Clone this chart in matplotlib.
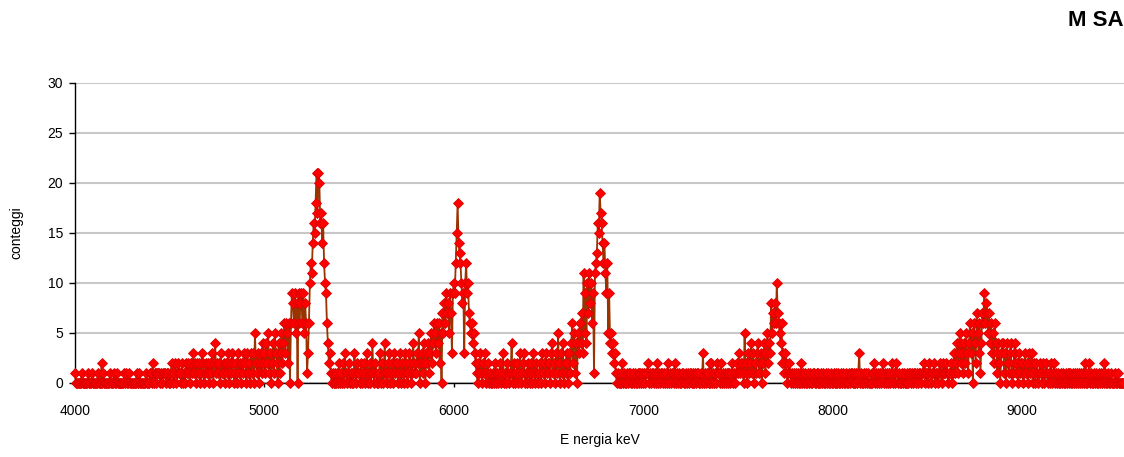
import numpy as np
import matplotlib.pyplot as plt

plt.rcParams['font.family'] = ['Liberation Sans', 'DejaVu Sans']

# MCA channels, 5 keV wide, first channel at 4000 keV
e_start, e_step = 4000, 5

# counts per channel, one character per channel (base 36: a=10 ... l=21),
# one string per 100 keV
counts_4000 = ("10000001000000100010", "00001000201000000100", "01001000000010100100",
               "00000100100000010001", "10201101110101110110")
counts_4500 = ("01210120121102010212", "10221312021201320121", "21021302412120311202",
               "12302132012031202132", "20312031305213023142")
counts_5000 = ("31425130241532041352", "46365260698695809689", "69586136acbegfilhlkg",
               "hegca964231010100102", "01020310120101031021")
counts_5500 = ("10201201301201410210", "01302014102130120312", "20130210312013201421",
               "13250231420324135246", "53646250758697859739")
counts_6000 = ("a9cfiedca893ac9a7656", "45321021310213012010", "01020110120130102101",
               "14021012013012301021", "02103102101203120312")
counts_6500 = ("12034120315203140213", "20314625140536473b59", "4a7b8a691bcdgfjhgece",
               "b9c59453423101001020", "10010110010100110101")
counts_7000 = ("01011201011010120101", "10101020101102101010", "01100101011010010110",
               "01030101102020101021", "10201010110101201012")
counts_7500 = ("13122105120312413021", "34123023413524385768", "6a765462313201210101",
               "01010102010100101001", "10010100101001010010")
counts_8000 = ("01001010010100100101", "10100101301001010100", "01012010101012010101",
               "10120102101001010010", "01101011010110112101")
counts_8500 = ("10210112011012101211", "21011201312413524314", "25314635064275361476",
               "96875746352643142034", "41304213401243120312")
counts_9000 = ("20131203123012021012", "10201210102101201010", "01010010110100101010",
               "10101020101201001010", "01010102100100100010", "01000000")

blocks = [counts_4000, counts_4500, counts_5000, counts_5500, counts_6000, counts_6500,
          counts_7000, counts_7500, counts_8000, counts_8500, counts_9000]
counts = np.array([int(c, 36) for b in blocks for c in "".join(b)])
energy = e_start + e_step * np.arange(len(counts))

x_ticks = [4000, 5000, 6000, 7000, 8000, 9000]
y_ticks = [0, 5, 10, 15, 20, 25, 30]

fig = plt.figure(figsize=(11.24, 4.57), dpi=100)
W, H = 1124, 457
ax = fig.add_axes([75 / W, 74 / H, (W - 75) / W, 300 / H])

ax.plot(energy, counts, color='#993300', lw=1.3, marker='D', ms=5,
        mfc='#ff0000', mec='#dd0000', mew=0.6, clip_on=False, zorder=3)

ax.set_xlim(4000, 9538)
ax.set_ylim(0, 30)
ax.set_xticks(x_ticks)
ax.set_yticks(y_ticks)
ax.yaxis.grid(True, color='#c8c8c8', lw=1.5)
ax.set_axisbelow(True)

for s in ('top', 'right'):
    ax.spines[s].set_visible(False)
for s in ('left', 'bottom'):
    ax.spines[s].set_color('black')
    ax.spines[s].set_linewidth(1.0)

ax.tick_params(axis='y', direction='out', length=4.5, width=1, pad=4, labelsize=10)
ax.tick_params(axis='x', direction='out', length=3, width=1, pad=12, labelsize=10)

ax.set_ylabel('conteggi', fontsize=10)
ax.yaxis.set_label_coords(-0.049, 0.5)
ax.set_xlabel('E nergia keV', fontsize=10)
ax.xaxis.set_label_coords(0.5, -0.19)
ax.xaxis.label.set_va('center')

fig.text(1068 / W, 1 - 20 / H, 'M SA', fontsize=16, fontweight='bold',
         ha='left', va='center')

fig.savefig('out.png', dpi=100)
